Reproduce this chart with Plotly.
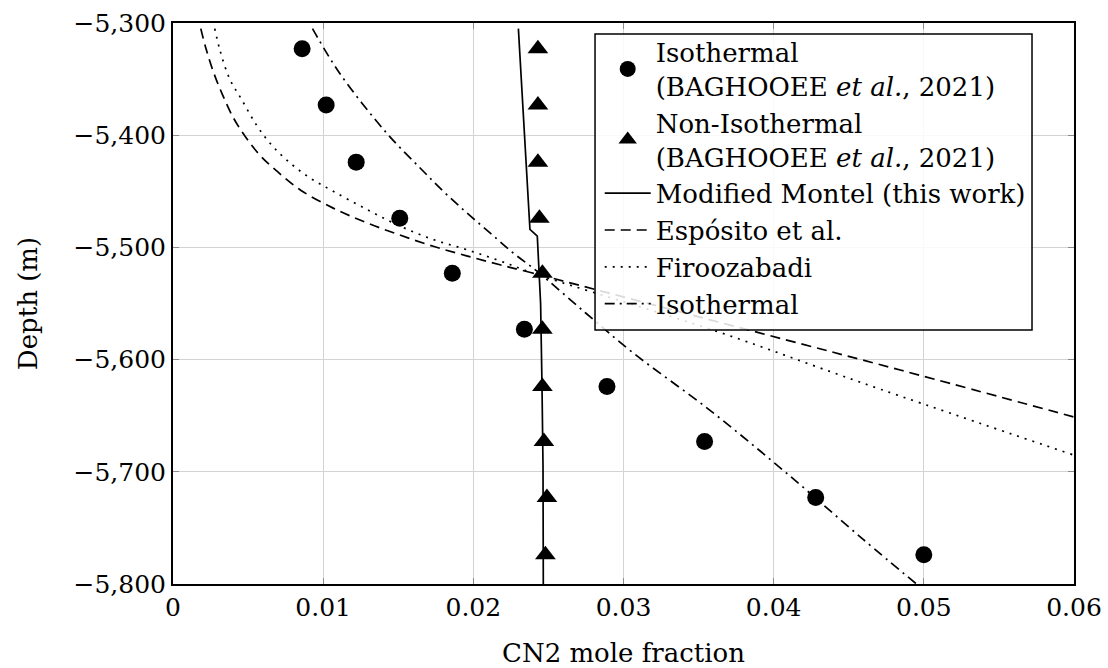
import plotly.graph_objects as go

# Measured points (BAGHOOEE et al., 2021)
depth_pts = [-5323, -5373, -5424, -5474, -5523, -5573, -5624, -5673, -5723, -5774]
iso_pts_x = [0.0086, 0.0102, 0.0122, 0.0151, 0.0186, 0.0234, 0.0289, 0.0354, 0.0428, 0.0500]
noniso_pts_x = [0.0243, 0.0243, 0.0243, 0.0244, 0.0246, 0.0246, 0.0246, 0.0247, 0.0249, 0.0248]

# Modified Montel model (this work)
montel_x = [0.0230, 0.02377, 0.02426, 0.02448, 0.02457, 0.02464, 0.02466]
montel_depth = [-5305, -5484, -5490, -5550, -5621, -5695, -5800]

# Espósito et al. model
esp_x = [0.00185, 0.0022, 0.0027, 0.0033, 0.0040, 0.0048, 0.0058, 0.0070, 0.0085,
         0.01067, 0.01289, 0.01511, 0.01733, 0.01955, 0.02177, 0.02399, 0.03957, 0.04849, 0.05996]
esp_depth = [-5305, -5323, -5344, -5364, -5384, -5401, -5418, -5433, -5449,
             -5465, -5478, -5489, -5499, -5507.5, -5515.5, -5523, -5578, -5609.5, -5651]

# Firoozabadi model
fir_x = [0.00278, 0.00312, 0.00378, 0.00456, 0.00556, 0.00645, 0.00756, 0.0090, 0.01067,
         0.01289, 0.01511, 0.01733, 0.01955, 0.02177, 0.02399, 0.03625, 0.04594, 0.05996]
fir_depth = [-5305, -5324, -5350, -5368, -5391, -5407, -5422, -5437, -5450,
             -5466, -5481, -5493, -5502, -5512, -5523, -5575, -5621, -5685]

# Isothermal model
isoline_x = [0.00929, 0.01111, 0.01422, 0.01644, 0.0180, 0.01955, 0.02111, 0.02266,
             0.02422, 0.02744, 0.03064, 0.03574, 0.04084, 0.04594, 0.04951]
isoline_depth = [-5305, -5345, -5398, -5429, -5450, -5469, -5487, -5505,
                 -5521, -5558, -5594, -5645, -5701, -5760, -5800]

FONT = "DejaVu Serif"
TICK_FS = 25
TITLE_FS = 26
LEGEND_FS = 26

fig = go.Figure()

fig.add_trace(go.Scatter(
    x=iso_pts_x, y=depth_pts, mode="markers",
    name="Isothermal<br>(BAGHOOEE <i>et al.</i>, 2021)",
    marker=dict(symbol="circle", size=17, color="black"),
))
fig.add_trace(go.Scatter(
    x=noniso_pts_x, y=depth_pts, mode="markers",
    name="Non-Isothermal<br>(BAGHOOEE <i>et al.</i>, 2021)",
    marker=dict(symbol="triangle-up", size=18, color="black"),
))
fig.add_trace(go.Scatter(
    x=montel_x, y=montel_depth, mode="lines",
    name="Modified Montel (this work)",
    line=dict(color="black", width=1.7),
))
fig.add_trace(go.Scatter(
    x=esp_x, y=esp_depth, mode="lines",
    name="Espósito et al.",
    line=dict(color="black", width=1.7, dash="10px,6px", shape="spline", smoothing=1.0),
))
fig.add_trace(go.Scatter(
    x=fir_x, y=fir_depth, mode="lines",
    name="Firoozabadi",
    line=dict(color="black", width=1.7, dash="2px,6px", shape="spline", smoothing=1.0),
))
fig.add_trace(go.Scatter(
    x=isoline_x, y=isoline_depth, mode="lines",
    name="Isothermal",
    line=dict(color="black", width=1.7, dash="10px,5px,2px,5px", shape="spline", smoothing=1.0),
))

axis_common = dict(
    showgrid=True, gridcolor="#d3d3d3", gridwidth=1,
    showline=True, linecolor="black", linewidth=2, mirror="ticks",
    ticks="inside", ticklen=6, tickcolor="#8c8c8c", tickwidth=1,
    zeroline=False, automargin=False,
    tickfont=dict(family=FONT, size=TICK_FS, color="black"),
)

fig.update_xaxes(
    range=[0, 0.06], dtick=0.01, tick0=0,
    title=dict(text="CN2 mole fraction", font=dict(family=FONT, size=TITLE_FS, color="black"), standoff=26),
    **axis_common,
)
fig.update_yaxes(
    range=[-5800, -5300], dtick=100, tick0=-5800, tickformat=",",
    title=dict(text="Depth (m)", font=dict(family=FONT, size=TITLE_FS, color="black"), standoff=28),
    **axis_common,
)

# Legend frame: semi-transparent white panel with a black border
fig.add_shape(
    type="rect", xref="paper", yref="paper",
    x0=0.4684, x1=0.9534, y0=0.4528, y1=0.9804,
    line=dict(color="black", width=1.5),
    fillcolor="rgba(255,255,255,0.85)",
    layer="above",
)

fig.update_layout(
    width=1108, height=668,
    margin=dict(l=173, r=34, t=23, b=84),
    plot_bgcolor="white", paper_bgcolor="white",
    font=dict(family=FONT, size=TICK_FS, color="black"),
    legend=dict(
        x=0.4736, y=0.99, xanchor="left", yanchor="top",
        bgcolor="rgba(0,0,0,0)", borderwidth=0,
        font=dict(family=FONT, size=LEGEND_FS, color="black"),
        itemwidth=46, tracegroupgap=0,
    ),
    showlegend=True,
)

fig.write_html("out.html")
